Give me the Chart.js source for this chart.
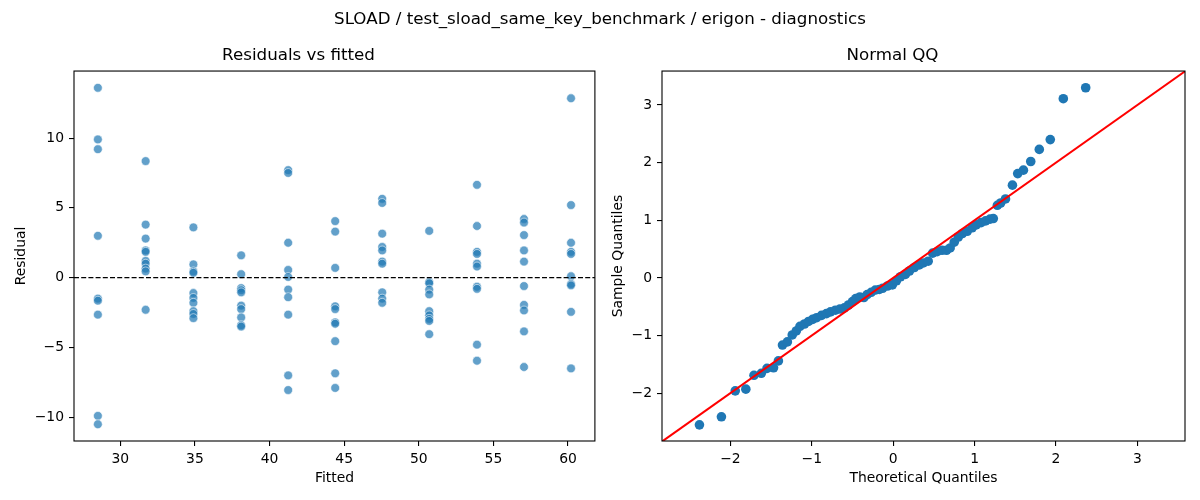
<!DOCTYPE html>
<html>
<head>
<meta charset="utf-8">
<script src="https://cdn.jsdelivr.net/npm/chart.js@4/dist/chart.umd.min.js"></script>
<style>
  body { margin: 0; background: #fff; }
  #wrap { position: relative; width: 1200px; height: 500px; }
  #suptitle { position: absolute; left: 0; top: 6px; width: 1200px; text-align: center;
    font-family: "DejaVu Sans", sans-serif; font-size: 16.7px; line-height: 24px; color: #000; }
  canvas { position: absolute; top: 0; }
</style>
</head>
<body>
<div id="wrap">
  <canvas id="resid" width="600" height="500" style="left:0"></canvas>
  <canvas id="qq" width="600" height="500" style="left:600px"></canvas>
  <div id="suptitle">SLOAD / test_sload_same_key_benchmark / erigon - diagnostics</div>
</div>
<script>
// fitted value of each group, residuals read per group
const fittedLevels = [28.5, 31.7, 34.9, 38.1, 41.25, 44.4, 47.55, 50.7, 53.9, 57.05, 60.2];
const residualGroups = [
  [13.6, 9.9, 9.2, 3.0, -1.5, -1.65, -2.65, -9.9, -10.5],
  [8.35, 3.8, 2.8, 1.95, 1.85, 1.2, 1.0, 0.65, 0.45, -2.3],
  [3.6, 0.95, 0.45, 0.35, -1.1, -1.45, -1.8, -2.4, -2.6, -2.9],
  [1.6, 0.25, -0.75, -0.9, -1.05, -2.0, -2.25, -2.85, -3.4, -3.5],
  [7.7, 7.5, 2.5, 0.55, 0.05, -0.85, -1.4, -2.65, -7.0, -8.05],
  [4.05, 3.3, 0.7, -2.05, -2.25, -3.2, -3.3, -4.55, -6.85, -7.9],
  [5.65, 5.35, 3.15, 2.2, 1.95, 1.15, 1.0, -1.05, -1.5, -1.8],
  [3.35, -0.3, -0.4, -0.85, -1.2, -2.4, -2.7, -2.95, -3.1, -4.05],
  [6.65, 3.7, 1.85, 1.7, 1.0, 0.8, -0.65, -0.8, -4.8, -5.95],
  [4.2, 3.95, 3.05, 1.95, 1.15, -0.6, -1.95, -2.35, -3.85, -6.4],
  [12.85, 5.2, 2.5, 1.85, 1.7, 0.1, -0.45, -0.55, -2.45, -6.5]
];
const residXRange = [26.9, 61.8];
const residYRange = [-11.7, 14.8];
const residXTicks = [30, 35, 40, 45, 50, 55, 60];
const residYTicks = [-10, -5, 0, 5, 10];

// normal QQ points
const qqTheoretical = [-2.38, -2.11, -1.94, -1.81, -1.71, -1.62, -1.55, -1.47, -1.41, -1.36, -1.30, -1.24,
  -1.19, -1.145, -1.09, -1.04, -0.99, -0.94, -0.88, -0.82, -0.77, -0.71, -0.655, -0.60, -0.55, -0.50,
  -0.46, -0.41, -0.36, -0.32, -0.27, -0.22, -0.17, -0.13, -0.07, -0.01, 0.04, 0.09, 0.15, 0.20, 0.26,
  0.32, 0.37, 0.43, 0.485, 0.54, 0.60, 0.655, 0.70, 0.75, 0.80, 0.85, 0.91, 0.97, 1.02, 1.08, 1.135,
  1.19, 1.23, 1.28, 1.32, 1.38, 1.465, 1.53, 1.60, 1.69, 1.795, 1.93, 2.09, 2.365];
const qqSample = [-2.55, -2.41, -1.96, -1.93, -1.69, -1.655, -1.57, -1.56, -1.44, -1.165, -1.11, -0.99,
  -0.92, -0.84, -0.80, -0.755, -0.72, -0.69, -0.65, -0.62, -0.59, -0.56, -0.54, -0.52, -0.47, -0.41,
  -0.36, -0.33, -0.34, -0.29, -0.25, -0.21, -0.20, -0.18, -0.14, -0.12, -0.05, 0.02, 0.06, 0.12, 0.18,
  0.225, 0.26, 0.29, 0.43, 0.455, 0.48, 0.48, 0.52, 0.62, 0.71, 0.77, 0.81, 0.87, 0.92, 0.96, 0.99,
  1.02, 1.03, 1.26, 1.30, 1.37, 1.61, 1.81, 1.87, 2.02, 2.23, 2.40, 3.11, 3.30];
const qqXRange = [-2.84, 3.585];
const qqYRange = [-2.83, 3.59];
const qqTicks = [-2, -1, 0, 1, 2, 3];

const FONT = 'DejaVu Sans';
const minus = v => String(v).replace('-', '\u2212');

// matplotlib style box around the plot area
const framePlugin = {
  id: 'frame',
  afterDatasetsDraw(chart) {
    const a = chart.chartArea, ctx = chart.ctx;
    ctx.save();
    ctx.strokeStyle = '#000';
    ctx.lineWidth = 1.1;
    ctx.strokeRect(a.left, a.top, a.right - a.left, a.bottom - a.top);
    ctx.restore();
  }
};

function axis(range, ticks, title, isX, width, titlePad) {
  return {
    type: 'linear',
    position: isX ? 'bottom' : 'left',
    min: range[0],
    max: range[1],
    afterBuildTicks: s => { s.ticks = ticks.map(v => ({ value: v })); },
    afterFit: s => { if (isX) s.height = width; else s.width = width; },
    grid: { drawOnChartArea: false, drawTicks: true, tickLength: 5, color: '#000', lineWidth: 1.1 },
    border: { display: false },
    ticks: { color: '#000', padding: 5, font: { family: FONT, size: 13.9 }, callback: v => minus(v) },
    title: { display: true, text: title, color: '#000', font: { family: FONT, size: 13.9 },
      padding: isX ? { top: 0, bottom: titlePad } : { top: titlePad, bottom: 0 } }
  };
}

function baseOptions(title, padRight, xAxis, yAxis) {
  return {
    responsive: false,
    animation: false,
    devicePixelRatio: 1,
    layout: { padding: { left: 0, right: padRight, top: 0, bottom: 10 } },
    plugins: {
      legend: { display: false },
      tooltip: { enabled: false },
      title: { display: true, text: title, color: '#000', font: { family: FONT, size: 16.7, weight: 'normal' },
        padding: { top: 46, bottom: 5 } }
    },
    scales: { x: xAxis, y: yAxis }
  };
}

const residPoints = [];
fittedLevels.forEach((f, i) => residualGroups[i].forEach(r => residPoints.push({ x: f, y: r })));

new Chart(document.getElementById('resid'), {
  type: 'scatter',
  data: {
    datasets: [
      {
        type: 'line',
        data: [{ x: residXRange[0], y: 0 }, { x: residXRange[1], y: 0 }],
        borderColor: '#000', borderWidth: 1.2, borderDash: [5, 2.2], pointRadius: 0, fill: false
      },
      {
        data: residPoints,
        pointRadius: 4.4,
        backgroundColor: 'rgba(31,119,180,0.7)',
        borderColor: 'rgba(255,255,255,0.8)',
        borderWidth: 0.7
      }
    ]
  },
  options: baseOptions('Residuals vs fitted', 3,
    axis(residXRange, residXTicks, 'Fitted', true, 49, 3.7),
    axis(residYRange, residYTicks, 'Residual', false, 74, 13)),
  plugins: [framePlugin]
});

new Chart(document.getElementById('qq'), {
  type: 'scatter',
  data: {
    datasets: [
      {
        type: 'line',
        data: [{ x: qqXRange[0], y: qqXRange[0] }, { x: qqYRange[1], y: qqYRange[1] }],
        borderColor: '#ff0000', borderWidth: 2, pointRadius: 0, fill: false
      },
      {
        data: qqTheoretical.map((t, i) => ({ x: t, y: qqSample[i] })),
        pointRadius: 4.8,
        backgroundColor: '#1f77b4',
        borderWidth: 0
      }
    ]
  },
  options: baseOptions('Normal QQ', 15,
    axis(qqXRange, qqTicks, 'Theoretical Quantiles', true, 49, 3.7),
    axis(qqYRange, qqTicks, 'Sample Quantiles', false, 62, 10)),
  plugins: [framePlugin]
});
</script>
</body>
</html>
